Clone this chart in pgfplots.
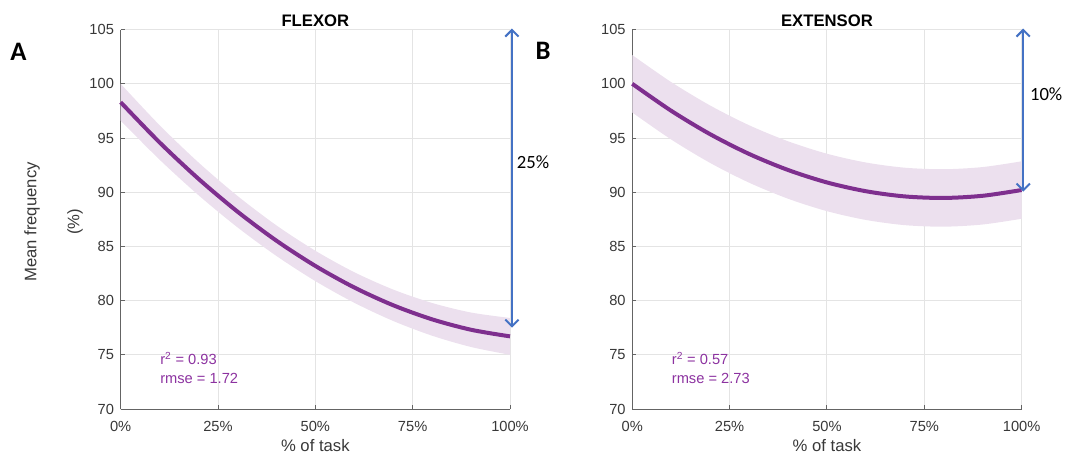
\documentclass[border=0pt]{standalone}
\usepackage{fontspec}
\setmainfont{Liberation Sans}
\newfontfamily\calibri{Carlito}
\usepackage{pgfplots}
\pgfplotsset{compat=1.18}
\usepgfplotslibrary{fillbetween}
\usetikzlibrary{arrows.meta}
\definecolor{linepurple}{RGB}{126,47,142}
\definecolor{bandpurple}{RGB}{236,224,238}
\definecolor{txtpurple}{RGB}{140,50,160}
\definecolor{arrowblue}{RGB}{68,114,196}
\definecolor{gridgray}{RGB}{228,228,228}
\definecolor{axgray}{RGB}{100,100,100}
\pgfplotsset{
  every axis title/.style={at={(0.5,1)}, anchor=base, yshift=2.5pt,
      font=\bfseries\fontsize{12.5}{14}\selectfont},
  myax/.style={
    scale only axis, width=292pt, height=284.55pt,
    xmin=0, xmax=100, ymin=70, ymax=105,
    xtick={0,25,50,75,100}, xticklabels={0\%,25\%,50\%,75\%,100\%},
    ytick={70,75,...,105},
    axis x line*=bottom, axis y line*=left,
    axis line style={axgray, line width=0.75pt, -},
    tick style={axgray, line width=0.75pt}, tick align=inside, major tick length=3pt,
    grid=major, major grid style={gridgray, line width=0.75pt},
    tick label style={font=\fontsize{11}{13}\selectfont, text=black!78},
    xticklabel style={anchor=base, yshift=-16.9pt},
    yticklabel style={xshift=-1.5pt},
    /pgf/number format/assume math mode=true,
    xlabel={\% of task},
    xlabel style={at={(axis description cs:0.5,0)}, anchor=base, yshift=-32pt,
      font=\fontsize{12.5}{14}\selectfont, text=black!78},
    clip=false,
  }
}
\begin{document}
\begin{tikzpicture}
\path (0,0) rectangle (799.5pt,342pt);
% ---------- Panel A : FLEXOR ----------
\begin{axis}[myax, at={(90.5pt,35.25pt)}, anchor=south west, title={FLEXOR}]
\addplot[name path=fu, draw=none, smooth] coordinates {
 (0,100.00) (10,96.18) (20,92.74) (30,89.66) (40,86.94) (50,84.60)
 (60,82.62) (70,81.02) (80,79.78) (90,78.90) (100,78.40)};
\addplot[name path=fl, draw=none, smooth] coordinates {
 (0,96.60) (10,93.00) (20,89.72) (30,86.76) (40,84.12) (50,81.80)
 (60,79.80) (70,78.12) (80,76.76) (90,75.72) (100,75.00)};
\addplot[bandpurple, draw=none] fill between[of=fu and fl];
\addplot[linepurple, line width=3pt, smooth] coordinates {
 (0,98.30) (10,94.59) (20,91.23) (30,88.21) (40,85.53) (50,83.20)
 (60,81.21) (70,79.57) (80,78.27) (90,77.31) (100,76.70)};
\draw[arrowblue, line width=1.5pt,
  {Straight Barb[length=5pt,width=10pt]}-{Straight Barb[length=5pt,width=10pt]}]
  (axis cs:100.5,105.1) -- (axis cs:100.5,77.5);
\node[anchor=west, font=\calibri\fontsize{14}{16}\selectfont, inner sep=0pt]
  at (axis cs:101.7,92.8) {25\%};
\node[anchor=base west, inner sep=0pt, text=txtpurple, font=\fontsize{11}{13}\selectfont]
  at (axis cs:10.1,74.12) {r\textsuperscript{2} = 0.93};
\node[anchor=base west, inner sep=0pt, text=txtpurple, font=\fontsize{11}{13}\selectfont]
  at (axis cs:10.1,72.37) {rmse = 1.72};
\end{axis}
% ---------- Panel B : EXTENSOR ----------
\begin{axis}[myax, at={(474.2pt,35.25pt)}, anchor=south west, title={EXTENSOR}]
\addplot[name path=eu, draw=none, smooth] coordinates {
 (0,102.65) (10,100.16) (20,98.00) (30,96.18) (40,94.70) (50,93.55)
 (60,92.74) (70,92.26) (80,92.12) (90,92.32) (100,92.85)};
\addplot[name path=el, draw=none, smooth] coordinates {
 (0,97.35) (10,94.86) (20,92.70) (30,90.88) (40,89.40) (50,88.25)
 (60,87.44) (70,86.96) (80,86.82) (90,87.02) (100,87.55)};
\addplot[bandpurple, draw=none] fill between[of=eu and el];
\addplot[linepurple, line width=3pt, smooth] coordinates {
 (0,100.00) (10,97.51) (20,95.35) (30,93.53) (40,92.05) (50,90.90)
 (60,90.09) (70,89.61) (80,89.47) (90,89.67) (100,90.20)};
\draw[arrowblue, line width=1.5pt,
  {Straight Barb[length=5pt,width=10pt]}-{Straight Barb[length=5pt,width=10pt]}]
  (axis cs:100.4,105.1) -- (axis cs:100.4,90.05);
\node[anchor=west, font=\calibri\fontsize{14}{16}\selectfont, inner sep=0pt]
  at (axis cs:102.1,99.06) {10\%};
\node[anchor=base west, inner sep=0pt, text=txtpurple, font=\fontsize{11}{13}\selectfont]
  at (axis cs:10.1,74.12) {r\textsuperscript{2} = 0.57};
\node[anchor=base west, inner sep=0pt, text=txtpurple, font=\fontsize{11}{13}\selectfont]
  at (axis cs:10.1,72.37) {rmse = 2.73};
\end{axis}
% ---------- shared labels ----------
\node[rotate=90, font=\fontsize{12.5}{14}\selectfont, text=black!78] at (24pt,175.5pt) {Mean frequency};
\node[rotate=90, font=\fontsize{12.5}{14}\selectfont, text=black!78] at (56.25pt,175.5pt) {(\%)};
\node[font=\calibri\bfseries\fontsize{20}{22}\selectfont] at (13.9pt,303.4pt) {A};
\node[font=\calibri\bfseries\fontsize{20}{22}\selectfont] at (407.25pt,304.1pt) {B};
\end{tikzpicture}
\end{document}
